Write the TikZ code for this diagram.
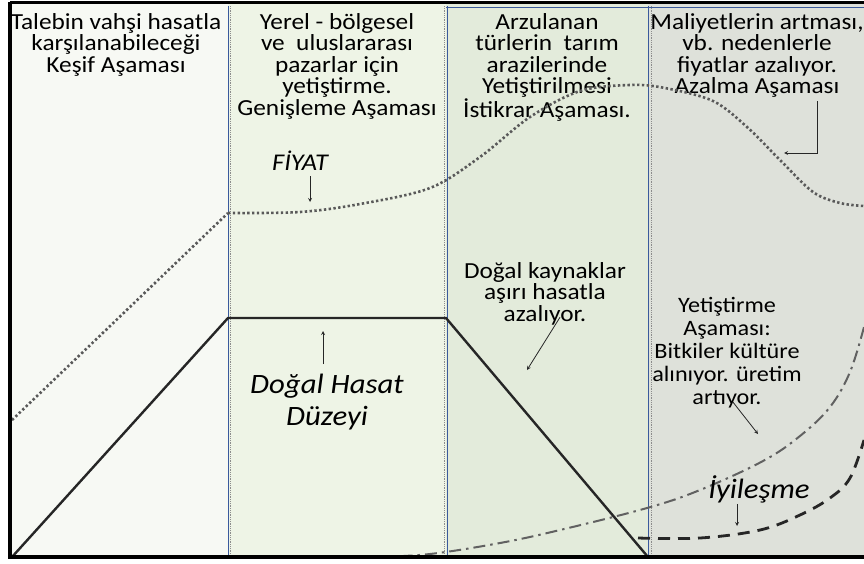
\documentclass[tikz,border=0pt]{standalone}
\usepackage{fontspec}
\setmainfont{Carlito}[FakeStretch=1.1]

\definecolor{explorebg}{HTML}{F7F9F4}
\definecolor{expandbg}{HTML}{EEF4E6}
\definecolor{stablebg}{HTML}{E3EBDB}
\definecolor{declinebg}{HTML}{DEE1DA}
\definecolor{divblue}{HTML}{3A5A9C}

\begin{document}
\begin{tikzpicture}[
  x=1pt, y=-1pt,
  >=stealth,
  phase/.style={align=center, inner sep=0pt, anchor=north, font=\fontsize{23}{21.6}\selectfont},
  curvelabel/.style={align=center, inner sep=0pt, font=\fontsize{28}{32}\selectfont\itshape},
  divider/.style={draw=divblue, line width=0.9pt},
  divdots/.style={draw=black!45, line width=0.9pt, dash pattern=on 0.9pt off 0.9pt},
  price/.style={draw=black!65, line width=2.6pt, dash pattern=on 2.4pt off 2.4pt},
  harvest/.style={draw=black!85, line width=2.4pt},
  cultivation/.style={draw=black!62, line width=2pt, dash pattern=on 12pt off 5pt on 2.5pt off 5pt},
  recovery/.style={draw=black!85, line width=2.8pt, dash pattern=on 12pt off 8pt},
  pointer/.style={draw=black!85, ->, line width=0.8pt},
]
  \useasboundingbox (0,0) rectangle (864,563);
  \fill[white] (0,0) rectangle (864,563);

  % Phase backgrounds
  \fill[explorebg] (10,3) rectangle (228,557);
  \fill[expandbg] (228,3) rectangle (446,557);
  \fill[stablebg] (446,3) rectangle (648,557);
  \fill[declinebg] (648,3) rectangle (864,557);

  % Dividers
  \draw[divdots] (230,6) -- (230,557);
  \draw[divdots] (444,6) -- (444,557);
  \draw[divdots] (651,6) -- (651,557);
  \draw[divider] (228,6) -- (228,557);
  \draw[divider] (447,6) -- (447,557);
  \draw[divider] (648,6) -- (648,557);
  \draw[divider] (446,7) -- (864,7);

  % Phase texts
  \node[phase] (explore) at (116,13) {Talebin vahşi hasatla\\karşılanabileceği\\Keşif Aşaması};
  \node[phase] (expand) at (337,13) {Yerel - bölgesel\\ve~ uluslararası\\pazarlar için\\yetiştirme.\\Genişleme Aşaması};
  \node[phase] (stable) at (547,13) {Arzulanan\\türlerin~ tarım\\arazilerinde\\Yetiştirilmesi\\İstikrar Aşaması.};
  \node[phase] (decline) at (757,13) {Maliyetlerin artması,\\vb. nedenlerle\\fiyatlar azalıyor.\\Azalma Aşaması};

  % Curves
  \draw[price] (12,420) -- (228,213)
    plot[smooth, tension=0.55] coordinates {(228,213) (300,212) (360,204) (430,188) (480,157)
      (530,117) (580,91) (630,85) (665,88) (713,101) (747,127) (780,160) (813,192) (840,203) (864,206)};
  \draw[harvest] (12,557) -- (228,318) -- (446,318) -- (648,557);
  \draw[cultivation] plot[smooth, tension=0.6] coordinates {(376,557) (430,554) (500,543) (560,530)
      (647,508) (700,490) (763,461) (800,436) (830,407) (850,372) (864,327)};
  \draw[recovery] plot[smooth, tension=0.6] coordinates {(638,538) (700,538) (760,530) (800,515)
      (830,498) (850,478) (864,440)};

  % Curve labels
  \node[inner sep=0pt, anchor=base, font=\fontsize{24}{24}\selectfont\itshape] (fiyat) at (300,170) {FİYAT};
  \node[curvelabel, anchor=north] (hasat) at (327,374) {Doğal Hasat\\Düzeyi};
  \node[phase] (kaynak) at (545,262) {Doğal kaynaklar\\aşırı hasatla\\azalıyor.};
  \node[phase, font=\fontsize{22}{23}\selectfont] (yetis) at (727,297) {Yetiştirme\\Aşaması:\\Bitkiler kültüre\\alınıyor. üretim\\artıyor.};
  \node[curvelabel, anchor=base] (iyi) at (759,498) {İyileşme};

  % Pointers
  \coordinate (fiyattip) at (310,202);
  \coordinate (hasattip) at (323,331);
  \coordinate (azalknee) at (817,153);
  \coordinate (azaltip) at (784,153);
  \coordinate (kaynaktip) at (527,370);
  \coordinate (yetistip) at (758,434);
  \coordinate (iyitip) at (737,526);

  \draw[pointer] (fiyattip |- fiyat.south) ++(0,6) -- (fiyattip);
  \draw[pointer] (hasattip |- hasat.north) ++(0,-10) -- (hasattip);
  \draw[pointer] (azalknee |- decline.south) ++(0,3) -- (azalknee) -- (azaltip);
  \draw[pointer] ([xshift=15pt, yshift=8pt]kaynak.south) -- (kaynaktip);
  \draw[pointer] ([xshift=6pt, yshift=6pt]yetis.south) -- (yetistip);
  \draw[pointer] (iyitip |- iyi.south) ++(0,1) -- (iyitip);

  % Frame
  \draw[black, line width=4pt] (10,2) -- (10,557) -- (864,557);
  \draw[black, line width=3pt] (10,2.5) -- (864,2.5);
\end{tikzpicture}
\end{document}
